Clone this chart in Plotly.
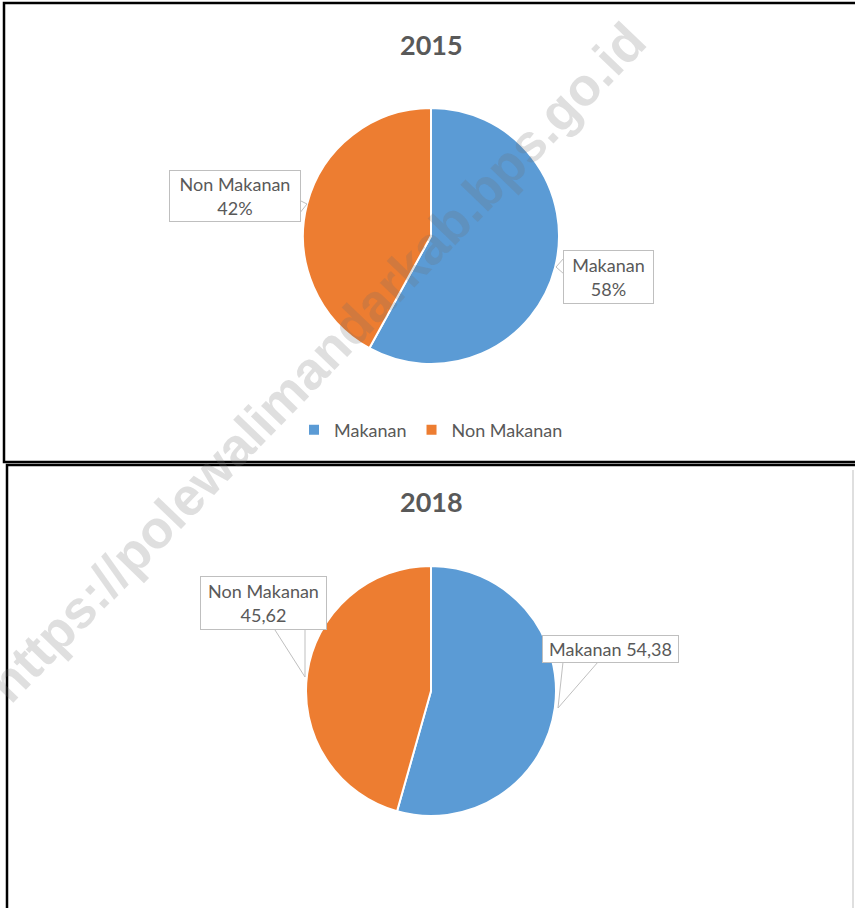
import plotly.graph_objects as go

# ---- data ----
categories = ["Makanan", "Non Makanan"]
years = ["2015", "2018"]
values_2015 = [58, 42]
values_2018 = [54.38, 45.62]
label_fmt_2015 = ["{cat}<br>{val:.0f}%", "{cat}<br>{val:.0f}%"]
label_fmt_2018 = ["{cat} {val}", "{cat}<br>{val}"]
colors = ["#5B9BD5", "#ED7D31"]
watermark = "https://polewalimandarkab.bps.go.id"

W, H = 855, 908
def px(x): return x / W
def py(y): return 1 - y / H

FONT = "Lato, 'Open Sans', sans-serif"
GRAY = "#595959"

fig = go.Figure()

# pie 1: center (431,236) r 128 ; pie 2: center (431,691) r 125
fig.add_trace(go.Pie(
    labels=categories, values=values_2015, sort=False, direction="clockwise",
    rotation=0, textinfo="none", marker=dict(colors=colors, line=dict(color="white", width=2)),
    domain=dict(x=[px(431 - 300), px(431 + 300)], y=[py(236 + 128), py(236 - 128)]),
    legend="legend", name=years[0]))
fig.add_trace(go.Pie(
    labels=categories, values=values_2018, sort=False, direction="clockwise",
    rotation=0, textinfo="none", marker=dict(colors=colors, line=dict(color="white", width=2)),
    domain=dict(x=[px(431 - 300), px(431 + 300)], y=[py(691 + 125), py(691 - 125)]),
    legend="legend2", name=years[1]))

def fmt_val(v):
    return f"{v:.2f}".replace(".", ",")

annotations = []
shapes = []

# titles
for yr, ty in ((years[0], 44), (years[1], 502)):
    annotations.append(dict(text=f"<b>{yr}</b>", x=px(431), y=py(ty), xref="paper", yref="paper",
                            xanchor="center", yanchor="middle",
                            showarrow=False, font=dict(family=FONT, size=27, color=GRAY)))

# callouts: (text, center x, center y, width, height, pointer base a, tip, base b)
callouts = [
    (label_fmt_2015[1].format(cat=categories[1], val=values_2015[1]), 235, 196, 124, 44,
     (299, 200), (307, 204), (299, 214)),
    (label_fmt_2015[0].format(cat=categories[0], val=values_2015[0]), 608.5, 277, 83, 46,
     (564, 258), (556, 267), (564, 274)),
    (label_fmt_2018[1].format(cat=categories[1], val=fmt_val(values_2018[1])), 263.5, 603, 119, 46,
     (275, 630), (305, 677), (305, 630)),
    (label_fmt_2018[0].format(cat=categories[0], val=fmt_val(values_2018[0])), 610.5, 649, 129, 20,
     (563, 662), (558, 708), (598, 662)),
]
for text, cx, cy, w, h, a, tip, b in callouts:
    shapes.append(dict(type="path", xref="paper", yref="paper",
                       path=f"M {px(a[0])} {py(a[1])} L {px(tip[0])} {py(tip[1])} L {px(b[0])} {py(b[1])}",
                       fillcolor="white", line=dict(color="#BFBFBF", width=1), layer="above"))
    annotations.append(dict(text=text, x=px(cx), y=py(cy), xref="paper", yref="paper",
                            xanchor="center", yanchor="middle",
                            showarrow=False, width=w, height=h, align="center", valign="middle",
                            bgcolor="white", bordercolor="#BFBFBF", borderwidth=1, borderpad=3,
                            font=dict(family=FONT, size=18, color=GRAY)))

# watermark
annotations.append(dict(text=f"<b>{watermark}</b>", x=px(316), y=py(362), xref="paper", yref="paper",
                        xanchor="center", yanchor="middle",
                        showarrow=False, textangle=-46,
                        font=dict(family="'Liberation Sans', Arial, sans-serif", size=53,
                                  color="rgba(110,110,110,0.22)")))

# frames
shapes.append(dict(type="rect", xref="paper", yref="paper", x0=px(4), y0=py(462), x1=px(870), y1=py(3),
                   line=dict(color="black", width=2.5), layer="above"))
shapes.append(dict(type="rect", xref="paper", yref="paper", x0=px(7), y0=py(930), x1=px(870), y1=py(465),
                   line=dict(color="black", width=2.5), layer="above"))
shapes.append(dict(type="line", xref="paper", yref="paper", x0=px(853), y0=py(470), x1=px(853), y1=py(908),
                   line=dict(color="#BFBFBF", width=1)))

legend_common = dict(orientation="h", xanchor="center", yanchor="middle", itemwidth=30,
                     font=dict(family=FONT, size=18, color=GRAY), bgcolor="rgba(0,0,0,0)")

fig.update_layout(
    width=W, height=H, margin=dict(l=0, r=0, t=0, b=0),
    paper_bgcolor="white", plot_bgcolor="white",
    showlegend=True,
    legend=dict(x=px(431), y=py(430), **legend_common),
    legend2=dict(x=px(431), y=py(880), **legend_common),
    annotations=annotations, shapes=shapes,
)

fig.write_html("out.html", config={"displayModeBar": False},
               post_script="document.body.style.margin='0px';document.body.style.overflow='hidden';")
